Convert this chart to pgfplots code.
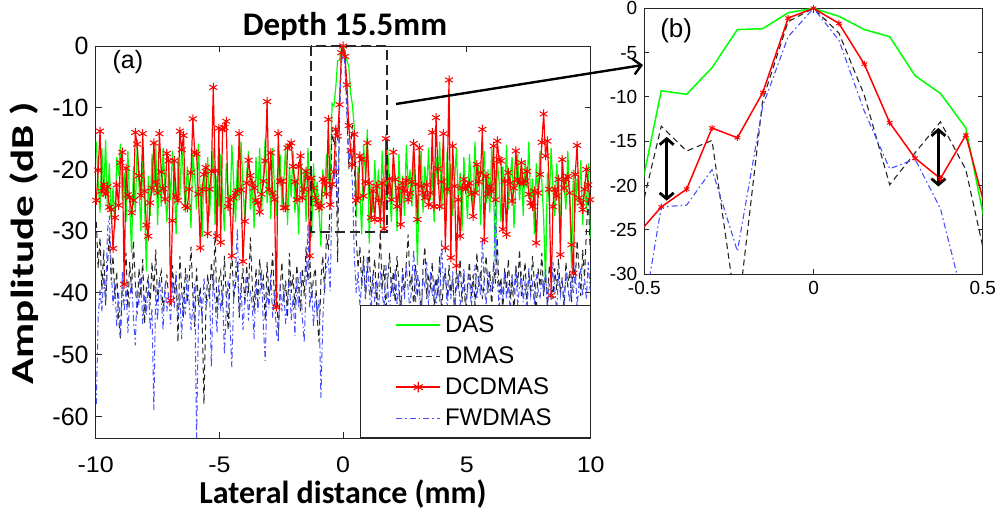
\documentclass[border=0pt]{standalone}
\usepackage{fontspec}
\setmainfont{Liberation Sans}
\newfontfamily\carlito{Carlito}
\usepackage{graphicx}
\usepackage{pgfplots}
\usepackage{pgfplotstable}
\pgfplotsset{compat=1.18}
\usetikzlibrary{arrows.meta}
\definecolor{mgreen}{RGB}{0,255,0}
\definecolor{mblue}{RGB}{70,80,255}
\definecolor{axgray}{RGB}{38,38,38}

\pgfplotstableread{
x das dmas dcd fw
-9.975 -15.5 -28.5 -25.0 -58.0
-9.9 -22.0 -36.0 -20.1 -44.0
-9.825 -27.0 -31.0 -13.8 -39.5
-9.75 -16.5 -39.5 -23.5 -43.0
-9.675 -24.5 -33.0 -22.4 -37.0
-9.6 -15.2 -42.0 -24.0 -41.5
-9.525 -26.5 -35.5 -22.8 -30.0
-9.45 -19.0 -30.5 -26.1 -27.5
-9.375 -28.0 -38.0 -26.5 -36.0
-9.3 -23.0 -34.0 -32.8 -42.0
-9.225 -29.5 -41.0 -27.8 -38.5
-9.15 -18.0 -36.5 -22.5 -45.5
-9.075 -21.0 -44.0 -25.8 -40.0
-9.0 -15.8 -47.5 -18.9 -47.0
-8.925 -25.0 -39.0 -17.2 -36.5
-8.85 -20.5 -37.0 -38.6 -43.0
-8.775 -28.5 -33.5 -19.8 -39.0
-8.7 -17.0 -42.5 -24.1 -46.5
-8.625 -26.0 -35.0 -24.5 -41.0
-8.55 -33.5 -40.0 -27.0 -37.5
-8.475 -19.5 -31.5 -25.0 -44.0
-8.4 -27.0 -38.5 -14.0 -48.5
-8.325 -16.0 -43.5 -15.9 -39.5
-8.25 -22.5 -36.0 -21.0 -42.0
-8.175 -30.0 -40.5 -24.2 -37.0
-8.1 -18.5 -34.5 -14.2 -45.0
-8.025 -25.5 -45.0 -23.5 -40.5
-7.95 -36.5 -39.0 -29.0 -43.5
-7.875 -21.0 -37.5 -30.8 -38.0
-7.8 -27.5 -42.0 -25.4 -46.0
-7.725 -17.5 -35.0 -23.0 -42.5
-7.65 -24.0 -40.0 -15.7 -59.0
-7.575 -15.5 -33.0 -22.0 -39.0
-7.5 -29.0 -41.5 -23.8 -44.5
-7.425 -20.0 -38.0 -14.2 -37.5
-7.35 -26.0 -36.5 -20.4 -41.0
-7.275 -16.5 -43.0 -23.1 -46.0
-7.2 -23.5 -39.5 -24.8 -38.5
-7.125 -28.5 -37.0 -17.4 -43.0
-7.05 -19.0 -41.0 -18.6 -40.0
-6.975 -25.0 -41.0 -41.2 -45.0
-6.9 -17.0 -35.5 -28.3 -38.0
-6.825 -22.0 -40.0 -18.6 -42.5
-6.75 -30.5 -37.0 -24.3 -36.5
-6.675 -18.0 -48.0 -25.0 -44.0
-6.6 -24.5 -34.0 -13.8 -40.0
-6.525 -16.0 -39.5 -16.8 -47.5
-6.45 -21.5 -44.0 -14.5 -39.0
-6.375 -27.0 -36.0 -25.9 -43.5
-6.3 -19.5 -41.5 -26.2 -37.0
-6.225 -23.0 -38.0 -23.2 -41.5
-6.15 -29.5 -32.5 -20.5 -46.0
-6.075 -17.5 -40.0 -11.8 -42.0
-6.0 -21.0 -45.5 -17.2 -38.5
-5.925 -26.5 -36.0 -17.5 -63.5
-5.85 -15.8 -42.0 -24.0 -45.0
-5.775 -24.0 -39.0 -32.7 -40.0
-5.7 -31.0 -44.0 -23.2 -44.5
-5.625 -20.0 -58.0 -20.8 -37.5
-5.55 -25.5 -43.0 -19.7 -42.0
-5.475 -18.0 -37.0 -30.4 -41.0
-5.4 -27.5 -41.0 -23.2 -39.5
-5.325 -22.0 -35.0 -20.3 -52.0
-5.25 -16.5 -39.5 -6.7 -37.0
-5.175 -29.0 -30.0 -20.2 -41.5
-5.1 -21.0 -43.5 -30.8 -46.5
-5.025 -26.0 -38.0 -13.3 -38.5
-4.95 -17.5 -36.5 -31.8 -43.0
-4.875 -24.5 -42.0 -13.5 -40.0
-4.8 -30.0 -34.0 -13.2 -50.0
-4.725 -19.0 -40.5 -12.2 -42.5
-4.65 -23.5 -46.0 -26.0 -38.0
-4.575 -27.5 -37.5 -24.9 -45.0
-4.5 -16.0 -33.0 -34.0 -52.0
-4.425 -22.0 -41.0 -24.6 -40.5
-4.35 -28.5 -38.5 -23.8 -36.5
-4.275 -18.5 -35.0 -23.5 -29.5
-4.2 -25.0 -44.0 -14.2 -43.5
-4.125 -15.5 -39.0 -23.3 -39.0
-4.05 -23.0 -36.0 -34.9 -46.0
-3.975 -28.0 -42.0 -28.4 -41.0
-3.9 -20.5 -35.5 -22.2 -37.5
-3.825 -17.0 -40.0 -18.5 -44.5
-3.75 -26.5 -31.0 -21.0 -39.5
-3.675 -21.5 -38.5 -22.2 -42.0
-3.6 -29.5 -43.0 -23.0 -47.5
-3.525 -18.0 -36.0 -25.0 -38.0
-3.45 -24.0 -41.5 -25.4 -43.0
-3.375 -16.5 -34.5 -26.9 -40.5
-3.3 -27.0 -39.0 -24.0 -36.0
-3.225 -21.0 -37.5 -21.9 -45.5
-3.15 -15.0 -44.5 -18.6 -51.0
-3.075 -25.5 -35.0 -9.0 -39.0
-3.0 -19.0 -40.5 -23.2 -42.5
-2.925 -28.0 -38.0 -17.3 -37.0
-2.85 -16.5 -33.5 -23.8 -44.0
-2.775 -23.0 -42.0 -24.9 -40.0
-2.7 -27.5 -36.5 -42.3 -46.5
-2.625 -20.0 -47.0 -14.2 -48.0
-2.55 -17.5 -39.5 -21.9 -38.5
-2.475 -26.0 -35.0 -21.9 -43.0
-2.4 -22.0 -41.5 -26.2 -39.5
-2.325 -16.0 -38.0 -26.2 -45.0
-2.25 -29.0 -44.0 -16.5 -41.0
-2.175 -19.5 -33.5 -16.2 -37.5
-2.1 -24.5 -40.0 -15.7 -44.5
-2.025 -17.0 -37.0 -19.5 -40.5
-1.95 -27.0 -42.5 -22.0 -47.0
-1.875 -21.5 -35.5 -24.9 -38.0
-1.8 -30.5 -39.0 -19.5 -42.5
-1.725 -18.5 -43.0 -17.8 -36.5
-1.65 -25.0 -36.0 -24.6 -44.0
-1.575 -20.0 -40.5 -23.2 -48.0
-1.5 -28.5 -32.5 -20.3 -39.0
-1.425 -16.5 -38.0 -21.4 -29.0
-1.35 -23.5 -34.0 -34.0 -42.5
-1.275 -31.0 -41.0 -21.4 -38.5
-1.2 -19.0 -37.5 -23.0 -45.5
-1.125 -26.0 -36.0 -24.6 -40.0
-1.05 -22.0 -44.0 -25.5 -43.5
-0.975 -27.0 -48.0 -26.2 -41.0
-0.9 -32.5 -38.0 -25.9 -57.0
-0.825 -20.0 -34.0 -21.6 -44.5
-0.75 -24.0 -40.0 -21.9 -38.0
-0.675 -17.5 -30.5 -24.0 -36.0
-0.6 -21.0 -33.0 -11.9 -34.5
-0.525 -23.3 -25.4 -25.7 -39.7
-0.45 -9.3 -13.3 -22.4 -22.4
-0.375 -9.7 -16.1 -20.4 -22.2
-0.3 -6.7 -14.9 -13.5 -18.2
-0.225 -2.4 -35.0 -14.6 -27.4
-0.15 -2.3 -10.3 -9.5 -11.0
-0.075 -0.5 -1.5 -1.1 -3.2
0 0 0 0 0
0.075 -0.9 -2.8 -1.7 -3.6
0.15 -2.4 -9.8 -6.3 -11.6
0.225 -3.2 -19.9 -12.9 -18.1
0.3 -7.6 -16.3 -16.9 -17.0
0.375 -9.6 -12.8 -19.2 -22.6
0.45 -13.5 -18.2 -14.3 -34.0
0.525 -27.8 -31.2 -25.0 -40.0
0.6 -19.5 -36.0 -24.6 -36.5
0.675 -24.0 -32.5 -17.8 -42.0
0.75 -30.5 -39.0 -18.4 -38.5
0.825 -16.0 -34.0 -24.3 -35.0
0.9 -21.0 -41.0 -22.0 -41.0
0.975 -13.5 -36.5 -15.7 -34.0
1.05 -32.0 -33.0 -22.2 -39.5
1.125 -22.5 -40.5 -27.8 -43.0
1.2 -27.0 -37.5 -23.5 -37.0
1.275 -18.5 -34.5 -28.1 -41.5
1.35 -25.0 -42.0 -22.7 -38.0
1.425 -20.0 -37.0 -25.0 -44.0
1.5 -29.5 -30.0 -28.1 -36.5
1.575 -17.0 -39.5 -22.2 -40.0
1.65 -23.5 -35.5 -29.6 -42.5
1.725 -26.5 -43.0 -15.0 -35.5
1.8 -16.5 -38.0 -23.8 -39.0
1.875 -24.0 -33.5 -21.5 -43.5
1.95 -28.5 -40.0 -24.9 -37.5
2.025 -19.0 -36.5 -17.2 -40.5
2.1 -22.0 -41.5 -21.6 -36.0
2.175 -30.0 -34.0 -26.0 -42.0
2.25 -17.5 -38.5 -23.0 -38.5
2.325 -25.5 -43.0 -28.9 -44.5
2.4 -21.0 -36.0 -22.2 -37.0
2.475 -27.5 -40.5 -23.5 -41.0
2.55 -16.0 -35.0 -21.8 -35.5
2.625 -23.0 -30.5 -24.9 -39.5
2.7 -20.0 -39.0 -23.8 -43.0
2.775 -26.0 -37.0 -22.0 -38.0
2.85 -18.0 -42.5 -15.8 -33.0
2.925 -24.5 -35.5 -22.4 -41.5
3.0 -35.5 -40.0 -28.1 -36.5
3.075 -21.0 -38.5 -16.5 -40.0
3.15 -17.0 -44.0 -22.7 -43.5
3.225 -27.0 -36.0 -23.8 -37.5
3.3 -19.5 -32.5 -24.6 -39.0
3.375 -23.5 -41.0 -22.5 -35.0
3.45 -16.5 -37.5 -25.7 -42.0
3.525 -25.0 -39.0 -23.8 -36.5
3.6 -20.5 -35.0 -14.0 -40.5
3.675 -28.5 -42.0 -26.0 -38.0
3.75 -18.0 -37.5 -11.6 -43.0
3.825 -22.5 -40.5 -19.9 -37.0
3.9 -15.5 -34.0 -26.0 -41.5
3.975 -26.5 -43.5 -22.0 -31.5
4.05 -21.0 -38.0 -14.2 -39.0
4.125 -29.0 -36.5 -32.7 -36.0
4.2 -17.0 -41.0 -23.2 -42.5
4.275 -24.0 -35.5 -5.5 -38.5
4.35 -19.0 -40.0 -34.3 -41.0
4.425 -27.5 -38.0 -16.2 -36.5
4.5 -22.0 -43.0 -22.7 -43.5
4.575 -16.5 -36.0 -35.6 -39.0
4.65 -25.5 -39.5 -24.9 -37.5
4.725 -20.5 -34.5 -30.8 -42.0
4.8 -30.0 -41.5 -23.0 -40.0
4.875 -18.0 -37.0 -21.6 -36.0
4.95 -23.0 -44.0 -23.2 -41.5
5.025 -28.0 -38.5 -22.7 -39.5
5.1 -17.5 -35.0 -22.2 -37.0
5.175 -22.5 -40.5 -24.0 -42.5
5.25 -26.0 -37.0 -27.6 -38.0
5.325 -15.5 -42.0 -23.8 -35.5
5.4 -24.0 -33.5 -19.2 -41.0
5.475 -19.5 -39.0 -22.0 -37.5
5.55 -29.0 -36.5 -20.5 -40.5
5.625 -21.0 -41.0 -13.5 -31.0
5.7 -17.0 -38.0 -31.4 -39.0
5.775 -25.5 -34.0 -21.1 -42.0
5.85 -20.0 -40.0 -24.0 -36.5
5.925 -27.0 -36.5 -22.7 -40.0
6.0 -16.5 -42.5 -23.5 -38.0
6.075 -23.5 -35.0 -16.2 -39.5
6.15 -35.0 -38.5 -24.9 -24.0
6.225 -18.5 -31.0 -15.4 -37.0
6.3 -22.0 -40.0 -18.4 -42.5
6.375 -28.5 -37.5 -18.6 -38.5
6.45 -19.5 -43.0 -29.7 -40.5
6.525 -24.0 -36.0 -21.9 -36.5
6.6 -16.0 -39.5 -30.5 -41.0
6.675 -26.5 -34.5 -20.5 -38.5
6.75 -21.0 -41.0 -22.2 -43.0
6.825 -18.0 -37.0 -25.1 -37.5
6.9 -29.5 -44.0 -23.0 -40.0
6.975 -22.5 -35.5 -17.0 -35.5
7.05 -17.5 -39.0 -21.6 -42.0
7.125 -25.0 -33.0 -22.2 -39.0
7.2 -20.0 -40.5 -18.9 -37.0
7.275 -27.5 -38.0 -22.2 -41.5
7.35 -18.5 -35.0 -21.9 -38.0
7.425 -23.0 -42.0 -20.3 -43.5
7.5 -15.5 -36.5 -24.0 -36.0
7.575 -26.0 -40.0 -25.4 -40.5
7.65 -21.5 -34.0 -26.0 -38.5
7.725 -30.5 -38.5 -23.5 -42.0
7.8 -19.0 -43.5 -31.9 -37.0
7.875 -24.5 -36.0 -23.8 -39.5
7.95 -17.0 -39.0 -20.8 -41.0
8.025 -22.0 -33.5 -15.6 -37.5
8.1 -28.0 -40.5 -11.0 -40.0
8.175 -38.5 -37.0 -17.8 -36.0
8.25 -20.5 -42.0 -15.4 -42.5
8.325 -25.5 -35.5 -23.2 -38.5
8.4 -16.5 -38.0 -40.4 -41.0
8.475 -23.0 -41.0 -26.0 -35.0
8.55 -27.5 -36.0 -23.2 -39.5
8.625 -19.0 -39.5 -24.3 -43.0
8.7 -24.0 -34.5 -21.6 -37.0
8.775 -30.0 -40.0 -33.8 -40.5
8.85 -18.0 -37.5 -18.4 -38.0
8.925 -22.5 -43.0 -23.0 -42.0
9.0 -26.5 -35.0 -21.6 -36.5
9.075 -17.0 -39.0 -21.1 -39.0
9.15 -24.5 -36.5 -23.8 -41.5
9.225 -36.0 -41.5 -32.2 -37.0
9.3 -20.0 -34.0 -36.8 -40.0
9.375 -27.0 -38.5 -20.8 -35.5
9.45 -21.5 -31.5 -16.1 -42.5
9.525 -25.0 -36.0 -24.6 -38.5
9.6 -18.5 -40.5 -25.4 -36.0
9.675 -29.0 -33.0 -26.5 -40.5
9.75 -22.0 -37.5 -23.2 -37.5
9.825 -26.5 -30.0 -20.0 -41.0
9.9 -19.0 -24.5 -22.5 -35.0
9.975 -31.0 -33.0 -24.9 -39.5
}\data

\pgfplotsset{
  dasstyle/.style={color=mgreen, line width=0.6pt, no marks},
  dmasstyle/.style={color=black!85, line width=0.5pt, dash pattern=on 3pt off 2pt, no marks},
  dcdstyle/.style={color=red, line width=0.6pt, mark=asterisk, mark size=2.3pt, mark options={solid, line width=0.5pt}},
  fwstyle/.style={color=mblue, line width=0.5pt, dash pattern=on 3pt off 1.5pt on 0.8pt off 1.5pt, no marks},
  mybase/.style={scale only axis, axis line style={axgray, line width=0.5pt},
    tick style={axgray, line width=0.5pt}, tick align=inside, tick pos=both,
    major tick length=3pt},
}

\begin{document}
\begin{tikzpicture}
\useasboundingbox (0,0) rectangle (501pt,257.5pt);
\begin{axis}[mybase,
  at={(47.85pt,38.5pt)}, anchor=south west,
  width=247.5pt, height=196pt,
  xmin=-10, xmax=10, ymin=-63.5, ymax=0,
  xtick={-10,-5,0,5,10},
  xticklabels={\scalebox{1}[0.9]{-10},\scalebox{1}[0.9]{-5},\scalebox{1}[0.9]{0},\scalebox{1}[0.9]{5},\scalebox{1}[0.9]{10}},
  ytick={-60,-50,-40,-30,-20,-10,0},
  yticklabels={-60,-50,-40,-30,-20,-10,0},
  yticklabel style={font=\fontsize{12.5}{15}\selectfont},
  xticklabel style={font=\fontsize{12.5}{15}\selectfont, yshift=-6pt},
  legend style={at={(1,0)}, anchor=south east, draw=axgray, fill=white,
    font=\fontsize{12}{14}\selectfont, inner xsep=17.3pt, inner ysep=2.8pt, row sep=1.6pt},
  legend cell align=left,
  legend image code/.code={\draw[mark repeat=2,mark phase=2,#1] plot coordinates {(0pt,0pt) (11pt,0pt) (22pt,0pt)};},
]
\addplot[dasstyle, forget plot] table[x=x,y=das]{\data};
\addplot[dmasstyle, forget plot] table[x=x,y=dmas]{\data};
\addplot[dcdstyle, forget plot] table[x=x,y=dcd]{\data};
\addplot[fwstyle, forget plot] table[x=x,y=fw]{\data};
\addlegendimage{draw=mgreen, line width=0.8pt, no marks}
\addlegendentry{DAS}
\addlegendimage{draw=black!85, line width=0.55pt, dash pattern=on 3pt off 2pt, no marks}
\addlegendentry{DMAS}
\addlegendimage{draw=red, line width=0.7pt, mark=asterisk, mark size=2.6pt, mark options={solid, draw=red, line width=0.55pt}}
\addlegendentry{DCDMAS}
\addlegendimage{draw=mblue, line width=0.6pt, dash pattern=on 3pt off 1.5pt on 0.8pt off 1.5pt, no marks}
\addlegendentry{FWDMAS}
\coordinate (r1) at (axis cs:-1.3,0);
\coordinate (r2) at (axis cs:1.78,-30.2);
\node[font=\fontsize{12.5}{15}\selectfont] at (axis cs:-8.7,-2.6) {(a)};
\end{axis}
\draw[black!85, line width=1pt, dash pattern=on 5pt off 2.5pt] (r1) rectangle (r2);

\begin{axis}[mybase,
  at={(322.15pt,120.35pt)}, anchor=south west,
  width=169.2pt, height=133pt,
  xmin=-0.5, xmax=0.5, ymin=-30, ymax=0,
  xtick={-0.5,0,0.5}, xticklabels={-0.5,0,0.5},
  ytick={-30,-25,-20,-15,-10,-5,0},
  yticklabels={-30,-25,-20,-15,-10,-5,0},
  ticklabel style={font=\fontsize{9.5}{11}\selectfont},
  major tick length=2.5pt,
]
\addplot[dasstyle, line width=0.75pt] table[x=x,y=das]{\data};
\addplot[dmasstyle, line width=0.55pt] table[x=x,y=dmas]{\data};
\addplot[dcdstyle, line width=0.75pt, mark size=1.6pt] table[x=x,y=dcd]{\data};
\addplot[fwstyle, line width=0.55pt] table[x=x,y=fw]{\data};
\draw[line width=1.4pt, {Straight Barb[length=3pt,width=7pt]}-{Straight Barb[length=3pt,width=7pt]}] (axis cs:-0.434,-14.5) -- (axis cs:-0.434,-21.7);
\draw[line width=1.4pt, {Straight Barb[length=3pt,width=7pt]}-{Straight Barb[length=3pt,width=7pt]}] (axis cs:0.369,-13.5) -- (axis cs:0.369,-20.1);
\node[font=\fontsize{13}{15}\selectfont] at (axis cs:-0.406,-2.56) {(b)};
\end{axis}

\draw[line width=1.2pt, -{Straight Barb[length=4pt,width=8pt]}] (198pt,205.5pt) -- (321.5pt,225pt);
\node[anchor=base, font=\carlito\bfseries\fontsize{16.5}{20}\selectfont] at (172.5pt,239.7pt) {Depth 15.5mm};
\node[anchor=base, font=\carlito\bfseries\fontsize{16}{19}\selectfont] at (171.5pt,5.9pt) {Lateral distance (mm)};
\node[anchor=base, rotate=90, font=\carlito\bfseries\fontsize{16}{19}\selectfont] at (16.5pt,136pt) {\scalebox{1.35}[1]{Amplitude (dB )}};
\end{tikzpicture}
\end{document}
